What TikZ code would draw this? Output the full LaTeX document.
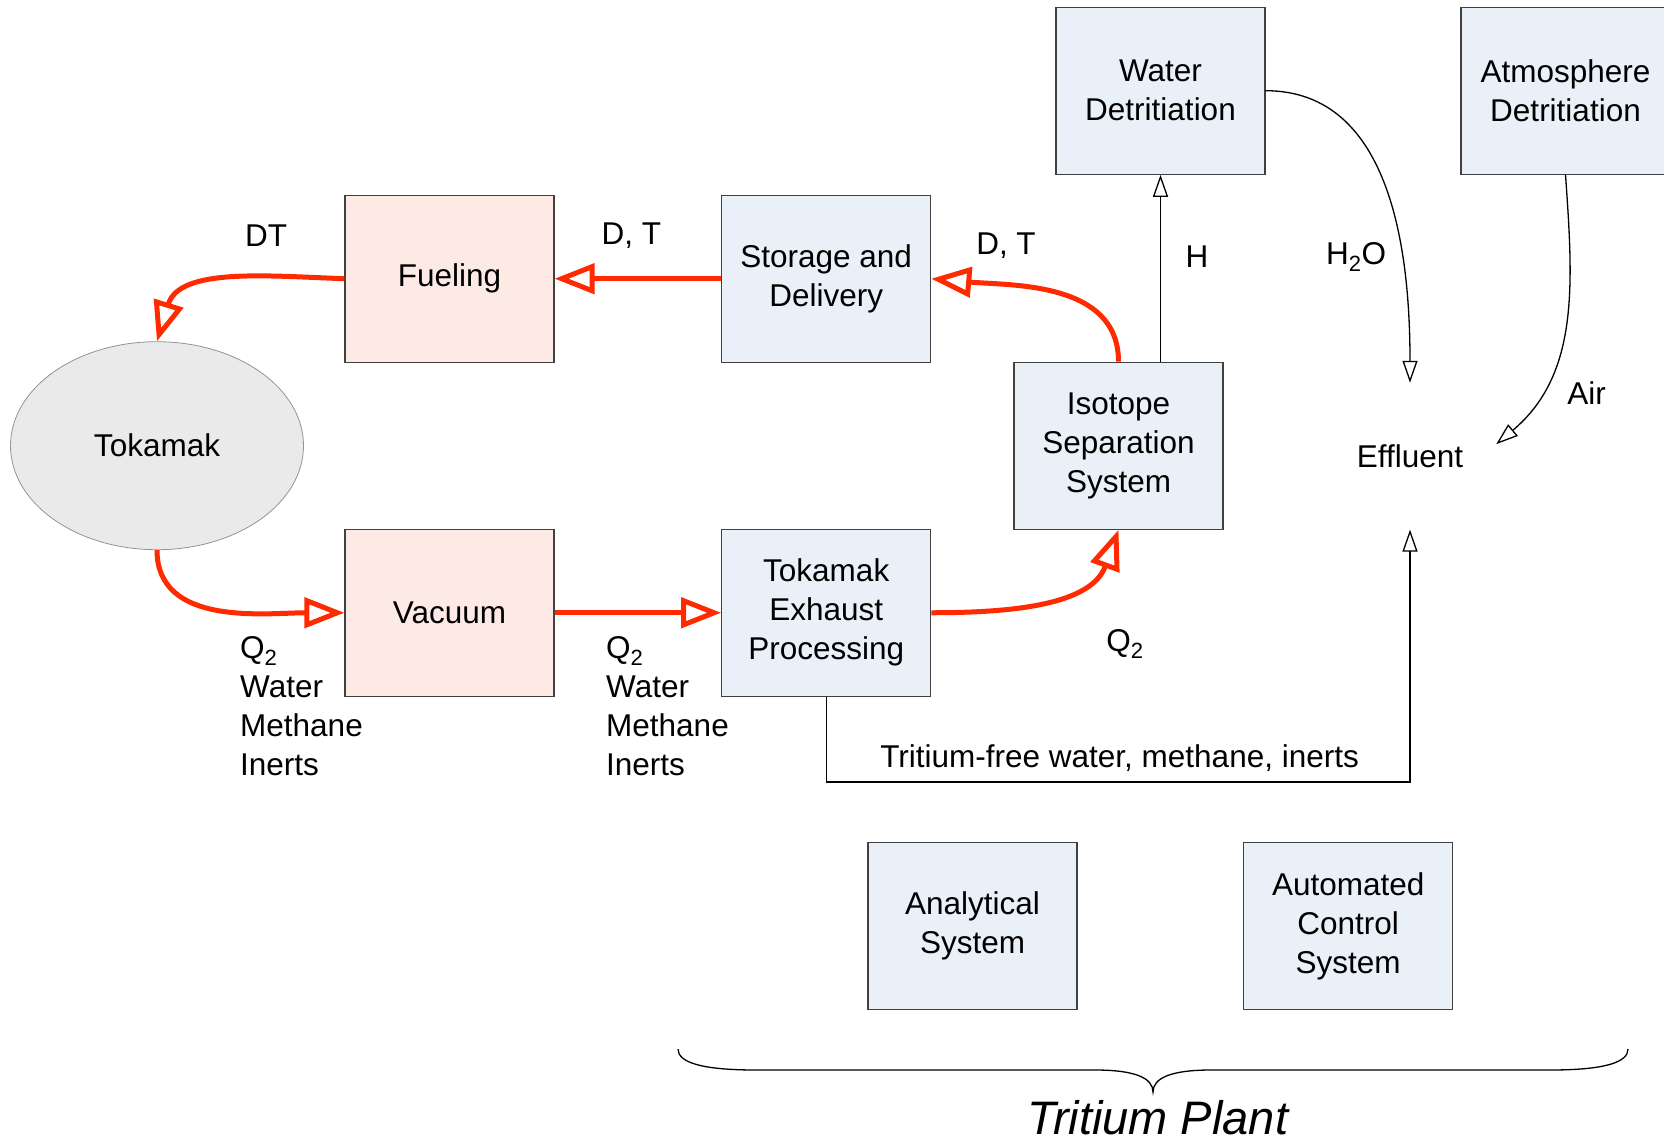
\documentclass[tikz,border=0pt]{standalone}
\usepackage{fontspec}
\setmainfont{Liberation Sans}
\usetikzlibrary{arrows.meta,shapes.geometric}
\definecolor{boxblue}{HTML}{EAF0F8}
\definecolor{boxpink}{HTML}{FDEAE4}
\definecolor{tokgray}{HTML}{EAEAEA}
\definecolor{flowred}{HTML}{FF2A00}
\definecolor{edgegray}{HTML}{404040}
\begin{document}
\begin{tikzpicture}[x=1pt,y=1pt,
  every node/.style={font=\fontsize{31.5}{39}\selectfont},
  blk/.style={draw=edgegray, line width=1.2pt, minimum width=209pt, minimum height=167pt, align=center, inner sep=0pt},
  bluebox/.style={blk, fill=boxblue},
  pinkbox/.style={blk, fill=boxpink},
  redflow/.style={draw=flowred, line width=5pt, -{Triangle[open, length=40pt, width=30pt]}},
  blackflow/.style={draw=black, line width=1.3pt, -{Triangle[open, length=22pt, width=15pt]}},
  lbl/.style={inner sep=0pt, align=left}
]
\useasboundingbox (0,0) rectangle (1664,-1145);

% boxes
\node[pinkbox] (fuel) at (449.5,-278.7) {Fueling};
\node[bluebox] (store) at (826.2,-278.7) {Storage and\\Delivery};
\node[bluebox] (water) at (1160.5,-90.7) {Water\\Detritiation};
\node[bluebox] (atmo) at (1565.5,-90.7) {Atmosphere\\Detritiation};
\node[ellipse, draw=gray!85, fill=tokgray, minimum width=293pt, minimum height=208pt, inner sep=0pt, line width=0.8pt] (tok) at (157,-445.7) {Tokamak};
\node[pinkbox] (vac) at (449.5,-612.75) {Vacuum};
\node[bluebox] (exh) at (826.2,-612.75) {Tokamak\\Exhaust\\Processing};
\node[bluebox] (iso) at (1118.5,-445.7) {Isotope\\Separation\\System};
\node[bluebox] (anal) at (972.5,-926.3) {Analytical\\System};
\node[bluebox] (auto) at (1348.2,-926.3) {Automated\\Control\\System};
\node[minimum width=172pt, minimum height=146.5pt, inner sep=0pt] (eff) at (1410,-456.2) {Effluent};

% labels
\node (dt) at (266,-235.6) {DT};
\node (dt1) at (631.4,-235.6) {D, T};
\node (dt2) at (1006,-246) {D, T};
\node (h) at (1197,-257) {H};
\node (h2o) at (1356,-257) {H\textsubscript{2}O};
\node (air) at (1586.5,-392.6) {Air};
\node[lbl, anchor=north west] (gas1) at (240,-636.5) {Q\textsubscript{2}\\Water\\Methane\\Inerts};
\node[lbl, anchor=north west] (gas2) at (606,-636.5) {Q\textsubscript{2}\\Water\\Methane\\Inerts};
\node (q2) at (1125,-644) {Q\textsubscript{2}};
\node (tf) at (1119.6,-757.7) {Tritium-free water, methane, inerts};
\node[font=\fontsize{47}{55}\selectfont\itshape, inner sep=0pt] (tp) at (1158,-1118) {Tritium Plant};

% red flows
\draw[redflow] (fuel.west) to[out=178,in=73] (tok.north);
\draw[redflow] (store.west) -- (fuel.east);
\draw[redflow] (iso.north) to[out=90,in=-5] (store.east);
\draw[redflow] (tok.south) to[out=-90,in=180] (vac.west);
\draw[redflow] (vac.east) -- (exh.west);
\draw[redflow] (exh.east) to[out=0,in=-110] (iso.south);

% black flows
\draw[blackflow] (iso.north -| water.south) -- (water.south);
\draw[blackflow] (water.east) to[out=0,in=90] (eff.north);
\draw[blackflow] (atmo.south) to[out=-86,in=40] ([yshift=12pt]eff.east);
\draw[blackflow] (exh.south) -- ++(0,-85) -| (eff.south);

% brace
\draw[line width=1.3pt] (678,-1049) .. controls (678,-1062) and (700,-1070) .. (756,-1070)
  -- (1095,-1070) .. controls (1135,-1070) and (1153,-1078) .. (1153,-1092)
  .. controls (1153,-1078) and (1171,-1070) .. (1211,-1070)
  -- (1550,-1070) .. controls (1606,-1070) and (1628,-1062) .. (1628,-1049);
\end{tikzpicture}
\end{document}
